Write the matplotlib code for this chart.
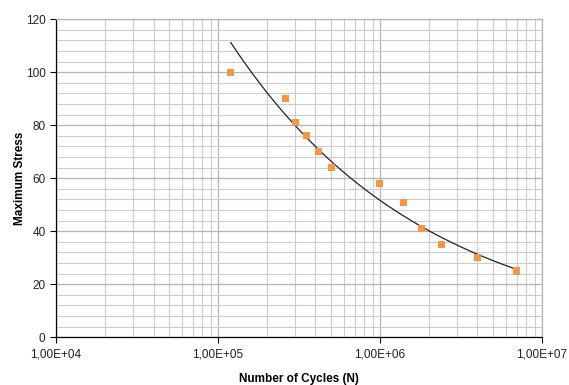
import matplotlib.pyplot as plt
import numpy as np
from matplotlib.ticker import FixedLocator, FuncFormatter, LogLocator, MultipleLocator

plt.rcParams['font.family'] = ['Liberation Sans', 'DejaVu Sans']

# data
cycles = [1.2e5, 2.6e5, 3.0e5, 3.5e5, 4.2e5, 5.0e5, 1.0e6, 1.4e6, 1.8e6, 2.4e6, 4.0e6, 7.0e6]
stress = [100, 90, 81, 76, 70, 64, 58, 51, 41, 35, 30, 25]

# power trendline (like Excel) fitted on the points
b, log_a = np.polyfit(np.log(cycles), np.log(stress), 1)
x_fit = np.logspace(np.log10(min(cycles)), np.log10(max(cycles)), 200)
y_fit = np.exp(log_a) * x_fit ** b

fig = plt.figure(figsize=(5.69, 3.85), dpi=100)
ax = fig.add_axes([0.0984, 0.124, 0.854, 0.826])

ax.plot(x_fit, y_fit, color='#222222', lw=0.9, zorder=3)
ax.scatter(cycles, stress, marker='s', s=26, color='#F79646', edgecolors='none', zorder=4)

ax.set_xscale('log')
ax.set_xlim(1e4, 1e7)
ax.set_ylim(0, 120)

ax.xaxis.set_major_locator(FixedLocator([1e4, 1e5, 1e6, 1e7]))
ax.xaxis.set_minor_locator(LogLocator(base=10, subs=np.arange(2, 10)))
ax.xaxis.set_major_formatter(FuncFormatter(lambda v, p: ('%.2E' % v).replace('.', ',')))
ax.xaxis.set_minor_formatter(FuncFormatter(lambda v, p: ''))
ax.yaxis.set_major_locator(MultipleLocator(20))
ax.yaxis.set_minor_locator(MultipleLocator(4))

ax.grid(True, which='major', color='#b4b4b4', lw=0.9)
ax.grid(True, which='minor', color='#cdcdcd', lw=0.8)
ax.set_axisbelow(True)

ax.tick_params(which='major', direction='out', length=4, width=0.8, labelsize=8.5, colors='black', labelcolor='#222222')
ax.tick_params(which='minor', length=0)
ax.tick_params(axis='x', pad=4)

for s in ['top', 'right']:
    ax.spines[s].set_color('#b4b4b4')
    ax.spines[s].set_linewidth(0.9)
for s in ['left', 'bottom']:
    ax.spines[s].set_color('black')
    ax.spines[s].set_linewidth(0.9)

ax.set_xlabel('Number of Cycles (N)', fontsize=8.5, fontweight='bold', labelpad=9)
ax.set_ylabel('Maximum Stress', fontsize=8.5, fontweight='bold', labelpad=0)

plt.savefig('out.png', dpi=100)
